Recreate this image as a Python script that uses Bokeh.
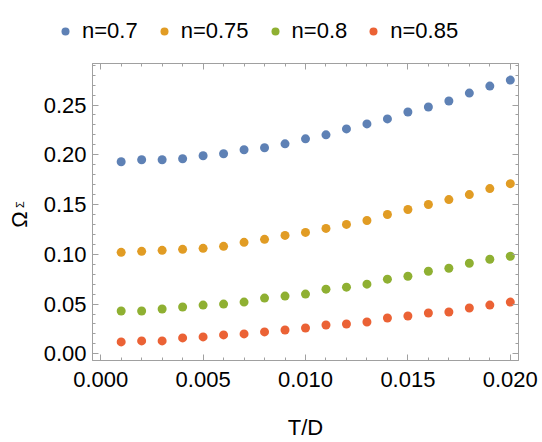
from bokeh.plotting import figure
from bokeh.layouts import row, column
from bokeh.core.properties import value
from bokeh.models import (Range1d, LinearAxis, Legend, LegendItem,
                          SingleIntervalTicker, CustomJSTickFormatter,
                          PrintfTickFormatter)
from bokeh.embed import file_html
from bokeh.resources import INLINE

# temperature ratio T/D
t_over_d = [0.001, 0.002, 0.003, 0.004, 0.005, 0.006, 0.007, 0.008, 0.009, 0.010,
            0.011, 0.012, 0.013, 0.014, 0.015, 0.016, 0.017, 0.018, 0.019, 0.020]

# Omega_Sigma for each filling n
omega_n070 = [0.193, 0.195, 0.195, 0.196, 0.199, 0.201, 0.205, 0.207, 0.211, 0.216,
              0.220, 0.226, 0.231, 0.236, 0.243, 0.248, 0.254, 0.262, 0.269, 0.275]
omega_n075 = [0.102, 0.103, 0.104, 0.105, 0.106, 0.108, 0.112, 0.115, 0.119, 0.122,
              0.126, 0.130, 0.134, 0.140, 0.145, 0.150, 0.155, 0.160, 0.166, 0.171]
omega_n080 = [0.043, 0.043, 0.045, 0.047, 0.049, 0.050, 0.052, 0.056, 0.058, 0.060,
              0.065, 0.067, 0.070, 0.075, 0.078, 0.083, 0.086, 0.091, 0.095, 0.098]
omega_n085 = [0.012, 0.013, 0.013, 0.016, 0.017, 0.019, 0.020, 0.022, 0.024, 0.026,
              0.029, 0.030, 0.032, 0.036, 0.038, 0.041, 0.042, 0.046, 0.049, 0.052]

series_labels = ["n=0.7", "n=0.75", "n=0.8", "n=0.85"]
series_values = [omega_n070, omega_n075, omega_n080, omega_n085]
series_colors = ["#5E81B5", "#E19C24", "#8FB032", "#EB6235"]

FONT = "Liberation Sans"
FRAME = "#a0a0a0"
W, H = 542, 442
LEGEND_H = 50   # strip on top holding the legend
LABEL_W = 30    # strip on the left holding the y title
PH = H - LEGEND_H

p = figure(width=W - LABEL_W, height=PH, output_backend="svg", toolbar_location=None,
           x_range=Range1d(-0.0004, 0.0204), y_range=Range1d(-0.0067, 0.2917),
           min_border_left=92 - LABEL_W, min_border_right=24,
           min_border_top=63 - LEGEND_H, min_border_bottom=80, frame_align=False)
p.grid.visible = False
p.outline_line_color = FRAME
p.background_fill_color = "white"
p.border_fill_color = "white"

for vals, col in zip(series_values, series_colors):
    p.scatter(t_over_d, vals, size=9, color=col, line_color=None)


def style_axis(ax, labels=True):
    ax.axis_line_color = FRAME
    ax.major_tick_line_color = FRAME
    ax.minor_tick_line_color = FRAME
    ax.major_tick_in = 6
    ax.major_tick_out = 0
    ax.minor_tick_in = 3
    ax.minor_tick_out = 0
    ax.major_label_text_font = FONT
    ax.major_label_text_font_size = "22px"
    ax.major_label_text_color = "black"
    if not labels:
        ax.formatter = CustomJSTickFormatter(code="return ''")
        ax.major_label_standoff = 0


xb = p.xaxis[0]
xb.ticker = SingleIntervalTicker(interval=0.005, num_minor_ticks=5)
xb.formatter = PrintfTickFormatter(format="%.3f")
style_axis(xb)
xb.major_label_standoff = 11
xb.axis_label = "T/D"
xb.axis_label_text_font = FONT
xb.axis_label_text_font_size = "22px"
xb.axis_label_text_font_style = "normal"
xb.axis_label_text_color = "black"
xb.axis_label_standoff = 25

yl = p.yaxis[0]
yl.ticker = SingleIntervalTicker(interval=0.05, num_minor_ticks=5)
yl.formatter = PrintfTickFormatter(format="%.2f")
style_axis(yl)
yl.major_label_standoff = 6

xt = LinearAxis(ticker=SingleIntervalTicker(interval=0.005, num_minor_ticks=5))
style_axis(xt, labels=False)
p.add_layout(xt, "above")
yr = LinearAxis(ticker=SingleIntervalTicker(interval=0.05, num_minor_ticks=5))
style_axis(yr, labels=False)
p.add_layout(yr, "right")

# legend strip: hidden renderers only supply the swatches
lg = figure(width=W, height=LEGEND_H, output_backend="svg", toolbar_location=None,
            x_range=Range1d(0, 1), y_range=Range1d(0, 1),
            x_axis_type=None, y_axis_type=None, min_border=0, frame_align=False)
lg.title.visible = False
lg.grid.visible = False
lg.outline_line_color = None
lg.border_fill_color = "white"
swatches = []
for vals, col in zip(series_values, series_colors):
    r = lg.scatter(t_over_d, vals, size=9, color=col, line_color=None)
    r.visible = False
    swatches.append(r)
legend = Legend(items=[LegendItem(label=lab, renderers=[r])
                       for lab, r in zip(series_labels, swatches)],
                orientation="horizontal", location=(55, 6),
                padding=0, margin=0, spacing=16, label_standoff=7,
                glyph_width=20, glyph_height=20, label_height=24,
                border_line_color=None, background_fill_alpha=0,
                inactive_fill_alpha=0,
                label_text_font=FONT, label_text_font_size="22px",
                label_text_color="black")
lg.add_layout(legend, "center")

# y title: Omega with a Sigma subscript; the strip's data units are its pixels
t = figure(width=LABEL_W, height=PH, output_backend="svg", toolbar_location=None,
           x_range=Range1d(0, LABEL_W), y_range=Range1d(0, PH),
           x_axis_type=None, y_axis_type=None, min_border=0, frame_align=False)
t.title.visible = False
t.grid.visible = False
t.outline_line_color = None
t.border_fill_color = "white"
t.text(x=[18.5], y=[H - 219], text=["Ω"], angle=90, angle_units="deg",
       text_align="center", text_baseline="middle", text_font=value(FONT),
       text_font_size="22px", text_color="black")
t.text(x=[19], y=[H - 204], text=["Σ"], angle=90, angle_units="deg",
       text_align="center", text_baseline="middle", text_font=value(FONT),
       text_font_size="11px", text_color="black")

layout = column(lg, row(t, p, spacing=0), spacing=0)
open("out.html", "w").write(file_html(layout, INLINE))
